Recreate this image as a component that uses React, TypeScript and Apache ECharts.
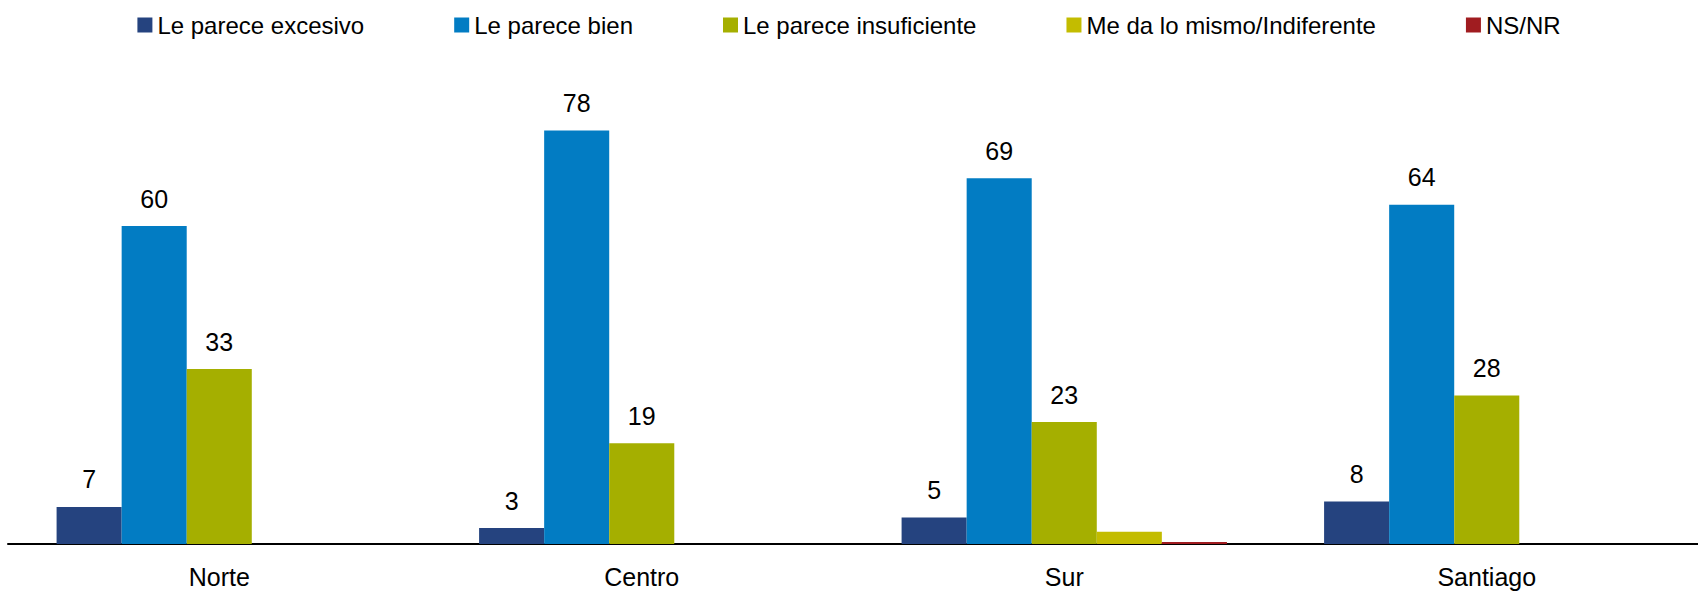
import React, { useEffect, useRef } from "react";
import * as echarts from "echarts";

const categories = ["Norte", "Centro", "Sur", "Santiago"];
const seriesNames = [
  "Le parece excesivo",
  "Le parece bien",
  "Le parece insuficiente",
  "Me da lo mismo/Indiferente",
  "NS/NR",
];
const excesivo = [7, 3, 5, 8];
const bien = [60, 78, 69, 64];
const insuficiente = [33, 19, 23, 28];
const indiferente = [0, 0, 2.3, 0];
const nsnr = [0, 0, 0.4, 0];
const colors = ["#25437F", "#027CC3", "#A5AF00", "#C3BC00", "#A01C20"];
const showLabels = [true, true, true, false, false];

const FONT = "'Liberation Sans', Arial, sans-serif";

export default function App() {
  const ref = useRef<HTMLDivElement>(null);
  useEffect(() => {
    if (!ref.current) return;
    const chart = echarts.init(ref.current, null, { renderer: "svg" });
    const values = [excesivo, bien, insuficiente, indiferente, nsnr];
    chart.setOption({
      animation: false,
      backgroundColor: "#ffffff",
      legend: {
        top: 6,
        left: "center",
        itemWidth: 15,
        itemHeight: 15,
        itemGap: 90,
        icon: "rect",
        textStyle: { fontFamily: FONT, fontSize: 24, color: "#000", lineHeight: 28 },
        data: seriesNames,
      },
      grid: { left: 8, right: 0, top: 14, bottom: 52 },
      xAxis: {
        type: "category",
        data: categories,
        axisLine: { lineStyle: { color: "#000", width: 2 } },
        axisTick: { show: false },
        axisLabel: { fontFamily: FONT, fontSize: 25, color: "#000", margin: 20 },
      },
      yAxis: { type: "value", min: 0, max: 100, show: false, splitLine: { show: false } },
      series: seriesNames.map((name, i) => ({
        name,
        type: "bar",
        data: values[i],
        barGap: "0%",
        barCategoryGap: "23%",
        itemStyle: { color: colors[i] },
        label: {
          show: showLabels[i],
          position: "top",
          distance: 15,
          fontFamily: FONT,
          fontSize: 25,
          color: "#000",
        },
      })),
    });
    return () => chart.dispose();
  }, []);
  return (
    <div
      ref={ref}
      style={{ position: "fixed", left: 0, top: 0, width: 1698, height: 596, background: "#fff" }}
    />
  );
}
